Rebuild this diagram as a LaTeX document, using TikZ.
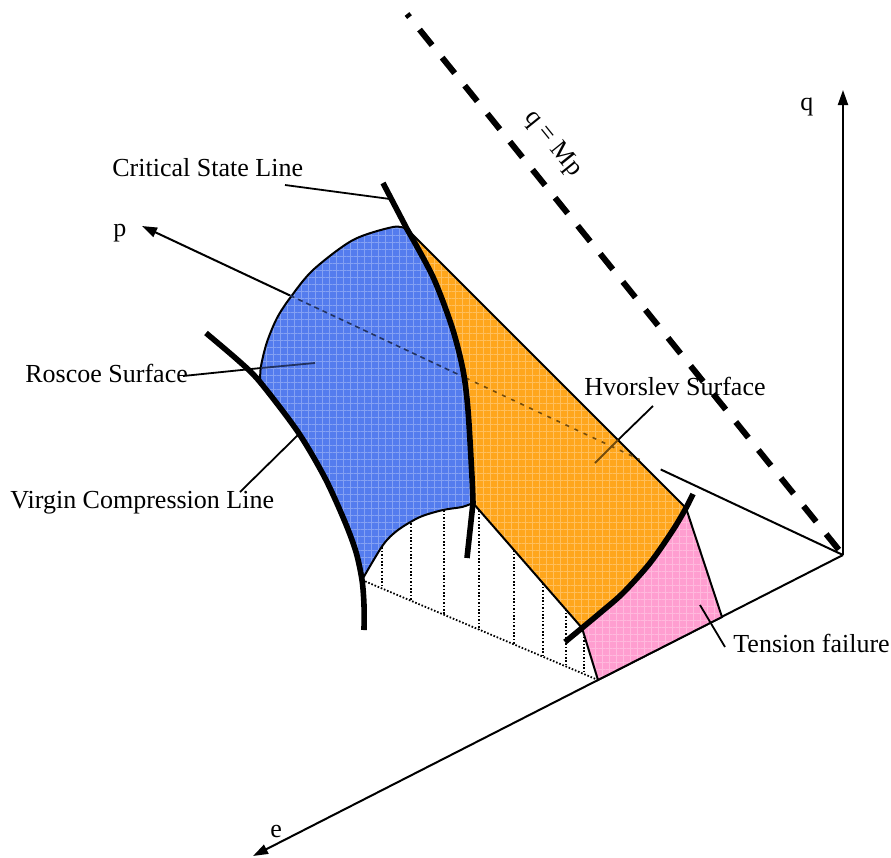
\documentclass[tikz,border=0pt]{standalone}
\usepackage{fontspec}
\setmainfont{Liberation Serif}
\usetikzlibrary{arrows.meta, calc, patterns.meta}

\definecolor{roscoe}{RGB}{84,124,238}
\definecolor{hvorslev}{RGB}{255,166,28}
\definecolor{tension}{RGB}{255,158,208}

\begin{document}
\begin{tikzpicture}[
    x=0.5pt, y=-0.5pt,
    lbl/.style={font=\fontsize{13}{15}\selectfont, inner sep=0pt, anchor=base west},
    axis/.style={line width=1pt, -{Triangle[length=7.5pt,width=5pt]}},
    lead/.style={line width=0.9pt},
    surf/.style={preaction={fill=#1}, pattern={Hatch[angle=0,distance=3.5pt,line width=0.35pt]},
      pattern color=#1!72!white, draw, line width=1pt},
    heavy/.style={line width=2.8pt},
    hidden/.style={line width=0.8pt, dash pattern=on 2.5pt off 2pt},
    dots/.style={line width=0.9pt, dash pattern=on 0.8pt off 0.9pt}
  ]
  \useasboundingbox (0,0) rectangle (891,858);

  % axes
  \coordinate (O) at (843,555);
  \coordinate (qtip) at (843,90);
  \coordinate (ptip) at (142,226);
  \coordinate (etip) at (253,856);
  \draw[axis] (O) -- (qtip);
  \draw[axis] (O) -- (etip);
  \draw[line width=1pt] (O) -- ($(O)!0.26!(ptip)$);
  \draw[axis] ($(O)!0.789!(ptip)$) -- (ptip);
  \node[lbl] (q) at (800,110) {q};
  \node[lbl] (p) at (113,236) {p};
  \node[lbl] (e) at (270,837) {e};

  % q = Mp
  \coordinate (mtop) at (407,14);
  \draw[line width=3pt, dash pattern=on 10pt off 8pt, dash phase=8pt] (mtop) -- (O);
  \node[lbl, anchor=center, rotate=-51] (mp) at (553,144) {q = Mp};

  % dotted region under the surfaces
  \draw[dots] (362,580) -- (598,680);
  \foreach \x/\top/\bot in {382/544/588, 411/520/601, 444/507/615, 479/507/630,
                            514/547/644, 543/580/657, 566/606/666, 584/630/674}
    \draw[dots] (\x,\top) -- (\x,\bot);

  % Roscoe surface
  \path[surf=roscoe]
    plot[smooth] coordinates {(362,580) (356,552) (345,522) (325,478) (298,432) (260,382)}
    -- plot[smooth] coordinates {(260,382) (261,366) (267,342) (277,318) (290,298) (313,270) (353,240) (393,227) (407,229)}
    -- plot[smooth] coordinates {(407,229) (433,277) (452,327) (463,370) (468,410) (472,477) (473,503)}
    -- plot[smooth] coordinates {(473,503) (462,507) (443,510) (420,517) (398,530) (383,545) (362,580)}
    -- cycle;

  % Hvorslev surface
  \path[surf=hvorslev]
    plot[smooth] coordinates {(473,503) (472,477) (468,410) (463,370) (452,327) (433,277) (407,229)}
    -- (686,508)
    -- plot[smooth] coordinates {(686,508) (673,530) (650,563) (623,593) (600,613) (582,628)}
    -- cycle;

  % tension failure
  \path[surf=tension] (686,508) -- (722,617) -- (598,680) -- (582,628)
    -- plot[smooth] coordinates {(582,628) (600,613) (623,593) (650,563) (673,530) (686,508)}
    -- cycle;

  % hidden part of the p axis
  \draw[hidden, roscoe!40!black] ($(O)!0.789!(ptip)$) -- ($(O)!0.538!(ptip)$);
  \draw[hidden, hvorslev!45!black, dash pattern=on 2pt off 3pt] ($(O)!0.538!(ptip)$) -- ($(O)!0.29!(ptip)$);

  % state lines
  \draw[heavy] plot[smooth] coordinates {(206,333) (240,362) (260,382) (298,432) (325,478) (345,522) (356,552) (362,580) (364,605) (364,630)};
  \draw[heavy] (383,183) -- plot[smooth] coordinates {(407,229) (433,277) (452,327) (463,370) (468,410) (472,477) (473,503)} -- (467,558);
  \draw[heavy] plot[smooth] coordinates {(693,494) (686,508) (673,530) (650,563) (623,593) (600,613) (582,628) (565,642)};

  % labels
  \node[lbl] (csl) at (112,176) {Critical State Line};
  \node[lbl] (rs) at (25,382) {Roscoe Surface};
  \node[lbl] (vcl) at (10,508) {Virgin Compression Line};
  \node[lbl] (hs) at (584,395) {Hvorslev Surface};
  \node[lbl] (tf) at (733,652) {Tension failure};

  \coordinate (csl-a) at (285,185);
  \coordinate (csl-b) at (390,199);
  \coordinate (rs-a) at (183,376);
  \coordinate (rs-m) at (261,368);
  \coordinate (rs-b) at (315,363);
  \coordinate (vcl-a) at (240,492);
  \coordinate (vcl-b) at (298,435);
  \coordinate (hs-a) at (653,406);
  \coordinate (hs-m) at (618,440);
  \coordinate (hs-b) at (595,463);
  \coordinate (tf-a) at (725,647);
  \coordinate (tf-b) at (700,605);

  \draw[lead] (csl-a) -- (csl-b);
  \draw[lead] (rs-a) -- (rs-m);
  \draw[lead, roscoe!40!black] (rs-m) -- (rs-b);
  \draw[lead] (vcl-a) -- (vcl-b);
  \draw[lead] (hs-a) -- (hs-m);
  \draw[lead, hvorslev!45!black] (hs-m) -- (hs-b);
  \draw[lead] (tf-a) -- (tf-b);
\end{tikzpicture}
\end{document}
